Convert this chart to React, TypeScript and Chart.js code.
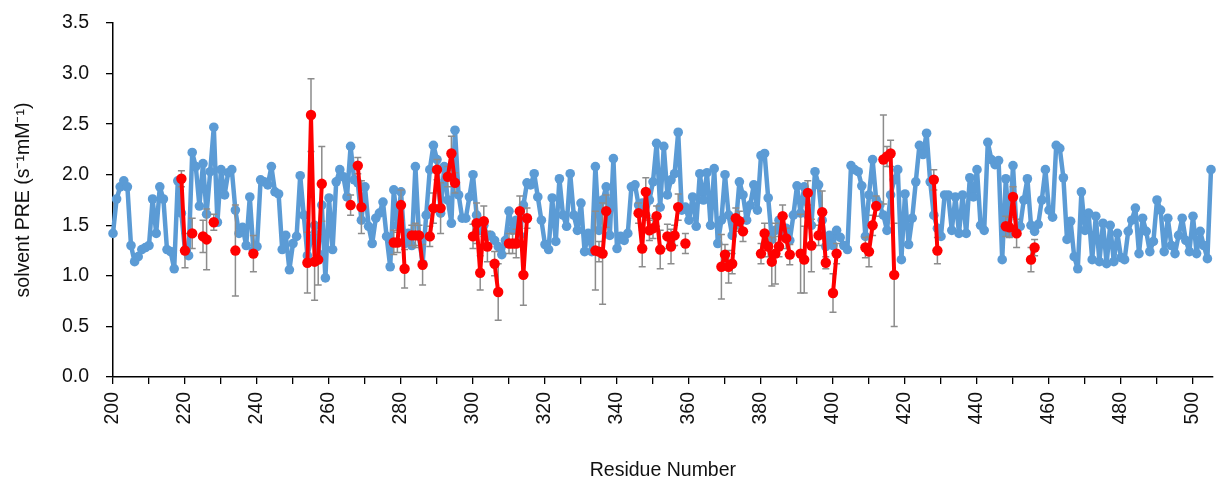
import React, { useEffect, useRef } from "react";
import { Chart, registerables } from "chart.js";

Chart.register(...registerables);

// ---------------- data ----------------
const FIRST_RESIDUE = 200;

// solvent PRE for residues 200..505 (blue series)
const blueValues = [
  /*200*/ 1.42, 1.76, 1.88, 1.94, 1.88, 1.30, 1.14, 1.19, 1.26, 1.28,
  /*210*/ 1.30, 1.76, 1.42, 1.88, 1.76, 1.26, 1.24, 1.07, 1.94, 1.62,
  /*220*/ 1.25, 1.20, 2.22, 2.08, 1.69, 2.11, 1.61, 2.03, 2.47, 1.53,
  /*230*/ 2.05, 1.80, 2.02, 2.05, 1.65, 1.42, 1.48, 1.30, 1.78, 1.25,
  /*240*/ 1.29, 1.95, 1.93, 1.90, 2.08, 1.83, 1.81, 1.26, 1.40, 1.06,
  /*250*/ 1.32, 1.39, 1.99, 1.60, 1.20, 1.35, 1.50, 1.22, 1.70, 0.98,
  /*260*/ 1.77, 1.26, 1.93, 2.05, 1.98, 1.78, 2.28, 1.95, 1.92, 1.55,
  /*270*/ 1.88, 1.49, 1.32, 1.57, 1.62, 1.73, 1.39, 1.09, 1.85, 1.50,
  /*280*/ 1.83, 1.32, 1.42, 1.30, 2.08, 1.39, 1.12, 1.60, 2.05, 2.29,
  /*290*/ 2.15, 1.62, 2.08, 1.75, 1.52, 2.44, 1.80, 1.57, 1.57, 1.78,
  /*300*/ 2.00, 1.60, 1.45, 1.50, 1.39, 1.40, 1.35, 1.29, 1.21, 1.35,
  /*310*/ 1.64, 1.45, 1.55, 1.40, 1.70, 1.92, 1.90, 2.01, 1.78, 1.55,
  /*320*/ 1.31, 1.26, 1.77, 1.34, 1.96, 1.60, 1.49, 2.01, 1.60, 1.45,
  /*330*/ 1.72, 1.24, 1.42, 1.24, 2.08, 1.45, 1.75, 1.88, 1.40, 2.16,
  /*340*/ 1.27, 1.39, 1.35, 1.42, 1.88, 1.90, 1.70, 1.72, 1.60, 1.75,
  /*350*/ 1.93, 2.31, 1.68, 2.28, 1.80, 1.95, 2.01, 2.42, 1.65, 1.68,
  /*360*/ 1.55, 1.78, 1.49, 2.01, 1.75, 2.02, 1.50, 2.06, 1.32, 1.55,
  /*370*/ 2.00, 1.60, 1.40, 1.50, 1.93, 1.80, 1.55, 1.70, 1.90, 1.65,
  /*380*/ 2.19, 2.21, 1.77, 1.36, 1.45, 1.55, 1.40, 1.47, 1.35, 1.60,
  /*390*/ 1.89, 1.62, 1.88, 1.60, 1.50, 2.03, 1.90, 1.55, 1.29, 1.40,
  /*400*/ 1.30, 1.45, 1.38, 1.30, 1.26, 2.09, 2.05, 2.03, 1.89, 1.39,
  /*410*/ 1.80, 2.15, 1.75, 1.70, 1.60, 1.45, 1.80, 1.95, 2.05, 1.16,
  /*420*/ 1.81, 1.31, 1.57, 1.93, 2.29, 2.20, 2.41, 1.93, 1.60, 1.47,
  /*430*/ 1.39, 1.80, 1.80, 1.45, 1.78, 1.42, 1.80, 1.42, 1.97, 1.78,
  /*440*/ 2.05, 1.50, 1.45, 2.32, 2.15, 2.10, 2.14, 1.16, 1.96, 1.42,
  /*450*/ 2.09, 1.45, 1.49, 1.75, 1.96, 1.50, 1.44, 1.51, 1.75, 2.05,
  /*460*/ 1.65, 1.58, 2.29, 2.26, 1.97, 1.36, 1.54, 1.19, 1.07, 1.83,
  /*470*/ 1.45, 1.62, 1.16, 1.59, 1.14, 1.52, 1.12, 1.50, 1.14, 1.42,
  /*480*/ 1.18, 1.16, 1.44, 1.55, 1.67, 1.22, 1.57, 1.44, 1.24, 1.34,
  /*490*/ 1.75, 1.65, 1.24, 1.57, 1.30, 1.22, 1.40, 1.57, 1.35, 1.24,
  /*500*/ 1.59, 1.22, 1.44, 1.30, 1.17, 2.05,
];

// red series (subset of residues, with error bars)
const redResidues = [
  219, 220, 222, 225, 226, 228, 234, 239, 254, 255,
  256, 257, 258, 266, 268, 269, 278, 279, 280, 281,
  283, 284, 285, 286, 288, 289, 290, 291, 293, 294,
  295, 300, 301, 302, 303, 304, 306, 307, 310, 311,
  312, 313, 314, 315, 334, 335, 336, 337, 346, 347,
  348, 349, 350, 351, 352, 354, 355, 356, 357, 359,
  369, 370, 371, 372, 373, 374, 375, 380, 381, 382,
  383, 384, 385, 386, 387, 388, 391, 392, 393, 394,
  396, 397, 398, 400, 401, 409, 410, 411, 412, 414,
  415, 416, 417, 428, 429, 448, 449, 450, 451, 455,
  456,
];
const redValues = [
  1.96, 1.25, 1.42, 1.39, 1.36, 1.53, 1.25, 1.22, 1.13, 2.59,
  1.14, 1.16, 1.91, 1.70, 2.09, 1.68, 1.33, 1.33, 1.70, 1.07,
  1.40, 1.40, 1.40, 1.11, 1.39, 1.67, 2.05, 1.67, 1.98, 2.21,
  1.92, 1.39, 1.52, 1.03, 1.54, 1.29, 1.12, 0.84, 1.32, 1.32,
  1.32, 1.64, 1.01, 1.57, 1.25, 1.24, 1.22, 1.64, 1.62, 1.27,
  1.83, 1.45, 1.47, 1.59, 1.26, 1.39, 1.29, 1.40, 1.68, 1.32,
  1.09, 1.21, 1.09, 1.12, 1.57, 1.54, 1.44, 1.22, 1.42, 1.29,
  1.14, 1.22, 1.29, 1.59, 1.37, 1.21, 1.22, 1.16, 1.82, 1.30,
  1.40, 1.63, 1.13, 0.83, 1.22, 1.28, 1.24, 1.50, 1.69, 2.15,
  2.18, 2.21, 1.01, 1.95, 1.25, 1.49, 1.48, 1.78, 1.42, 1.16,
  1.28,
];
const redErrors = [
  0.08, 0.17, 0.15, 0.16, 0.30, 0.08, 0.45, 0.18, 0.30, 0.36,
  0.38, 0.25, 0.37, 0.10, 0.08, 0.26, 0.12, 0.10, 0.15, 0.19,
  0.10, 0.12, 0.10, 0.20, 0.10, 0.15, 0.10, 0.25, 0.10, 0.17,
  0.10, 0.12, 0.20, 0.17, 0.15, 0.15, 0.12, 0.28, 0.10, 0.10,
  0.14, 0.15, 0.30, 0.10, 0.39, 0.10, 0.50, 0.16, 0.10, 0.18,
  0.14, 0.10, 0.10, 0.10, 0.19, 0.12, 0.17, 0.10, 0.13, 0.10,
  0.32, 0.10, 0.16, 0.10, 0.10, 0.10, 0.10, 0.10, 0.10, 0.10,
  0.24, 0.30, 0.10, 0.11, 0.10, 0.10, 0.39, 0.33, 0.12, 0.26,
  0.10, 0.21, 0.06, 0.19, 0.10, 0.10, 0.15, 0.10, 0.10, 0.44,
  0.10, 0.13, 0.51, 0.10, 0.13, 0.10, 0.10, 0.10, 0.14, 0.12,
  0.08,
];

const yTickValues = [0, 0.5, 1.0, 1.5, 2.0, 2.5, 3.0, 3.5];
const xTickValues = [200, 210, 220, 230, 240, 250, 260, 270, 280, 290, 300, 310, 320, 330, 340, 350, 360, 370, 380, 390, 400, 410, 420, 430, 440, 450, 460, 470, 480, 490, 500];
const xLabelValues = [200, 220, 240, 260, 280, 300, 320, 340, 360, 380, 400, 420, 440, 460, 480, 500];

const X_MIN = 200;
const X_MAX = 505.5;
const Y_MIN = 0;
const Y_MAX = 3.5;

// ---------------- styles ----------------
const BLUE = "#5B9BD5";
const RED = "#FF0000";
const ERR = "#8C8C8C";
const AXIS = "#000000";
const TEXT = "#111111";
const FONT = "'Liberation Sans', Arial, sans-serif";

const errorBarPlugin = {
  id: "errorBars",
  afterDatasetDraw(chart: any, args: any) {
    if (args.index !== 1) return; // draw after blue, before red
    const { ctx } = chart;
    const x = chart.scales.x;
    const y = chart.scales.y;
    ctx.save();
    ctx.strokeStyle = ERR;
    ctx.lineWidth = 1.5;
    const cap = 3.5;
    redResidues.forEach((r, i) => {
      const px = x.getPixelForValue(r);
      const top = y.getPixelForValue(redValues[i] + redErrors[i]);
      const bot = y.getPixelForValue(redValues[i] - redErrors[i]);
      ctx.beginPath();
      ctx.moveTo(px, top);
      ctx.lineTo(px, bot);
      ctx.moveTo(px - cap, top);
      ctx.lineTo(px + cap, top);
      ctx.moveTo(px - cap, bot);
      ctx.lineTo(px + cap, bot);
      ctx.stroke();
    });
    ctx.restore();
  },
};

export default function App() {
  const canvasRef = useRef<HTMLCanvasElement | null>(null);

  useEffect(() => {
    document.body.style.margin = "0";
    const canvas = canvasRef.current;
    if (!canvas) return;

    const bluePoints = blueValues.map((v, i) => ({ x: FIRST_RESIDUE + i, y: v }));
    const redPoints: { x: number; y: number | null }[] = [];
    redResidues.forEach((r, i) => {
      if (i > 0 && r !== redResidues[i - 1] + 1) {
        redPoints.push({ x: r - 0.5, y: null });
      }
      redPoints.push({ x: r, y: redValues[i] });
    });

    const chart = new Chart(canvas, {
      type: "line",
      data: {
        datasets: [
          {
            label: "red",
            data: redPoints as any,
            borderColor: RED,
            backgroundColor: RED,
            borderWidth: 4,
            borderJoinStyle: "round",
            borderCapStyle: "round",
            pointRadius: 5.2,
            pointBorderWidth: 0,
            pointBackgroundColor: RED,
            spanGaps: false,
            tension: 0,
            clip: false as any,
          },
          {
            label: "blue",
            data: bluePoints as any,
            borderColor: BLUE,
            backgroundColor: BLUE,
            borderWidth: 4.5,
            borderJoinStyle: "round",
            borderCapStyle: "round",
            pointRadius: 4.8,
            pointBorderWidth: 0,
            pointBackgroundColor: BLUE,
            tension: 0,
            clip: false as any,
          },
        ],
      },
      options: {
        responsive: false,
        animation: false,
        devicePixelRatio: 1,
        events: [],
        layout: { padding: { left: 0, right: 0, top: 23, bottom: 0 } },
        plugins: {
          legend: { display: false },
          tooltip: { enabled: false },
        },
        scales: {
          x: {
            type: "linear",
            min: X_MIN,
            max: X_MAX,
            afterBuildTicks: (s: any) => {
              s.ticks = xTickValues.map((v) => ({ value: v }));
            },
            afterFit: (s: any) => {
              s.height = 107;
              s.paddingLeft = 0;
              s.paddingRight = 0;
              s.paddingTop = 0;
              s.paddingBottom = 0;
            },
            ticks: {
              autoSkip: false,
              minRotation: 90,
              maxRotation: 90,
              padding: 8,
              color: TEXT,
              font: { family: FONT, size: 19.5 },
              callback: (v: any) => (xLabelValues.includes(Number(v)) ? String(v) : ""),
            },
            grid: {
              drawOnChartArea: false,
              drawTicks: true,
              tickLength: 7,
              color: AXIS,
              lineWidth: 1.3,
            },
            border: { display: true, color: AXIS, width: 1.5 },
            title: {
              display: true,
              text: "Residue Number",
              color: TEXT,
              font: { family: FONT, size: 19.5 },
              padding: { top: 0, bottom: 2 },
            },
          },
          y: {
            type: "linear",
            min: Y_MIN,
            max: Y_MAX,
            afterBuildTicks: (s: any) => {
              s.ticks = yTickValues.map((v) => ({ value: v }));
            },
            afterFit: (s: any) => {
              s.width = 113;
              s.paddingLeft = 0;
              s.paddingRight = 0;
              s.paddingTop = 0;
              s.paddingBottom = 0;
            },
            ticks: {
              padding: 17,
              color: TEXT,
              font: { family: FONT, size: 19.5 },
              callback: (v: any) => Number(v).toFixed(1),
            },
            grid: {
              drawOnChartArea: false,
              drawTicks: true,
              tickLength: 7,
              color: AXIS,
              lineWidth: 1.3,
            },
            border: { display: true, color: AXIS, width: 1.5 },
            title: {
              display: true,
              text: "solvent PRE (s\u207B\u00B9mM\u207B\u00B9)",
              color: TEXT,
              font: { family: FONT, size: 19.5 },
              padding: { top: 12, bottom: 0 },
            },
          },
        },
      } as any,
      plugins: [errorBarPlugin as any],
    });

    return () => {
      chart.destroy();
    };
  }, []);

  return (
    <div style={{ width: 1218, height: 484, background: "#ffffff" }}>
      <canvas ref={canvasRef} width={1218} height={484} style={{ display: "block" }} />
    </div>
  );
}
